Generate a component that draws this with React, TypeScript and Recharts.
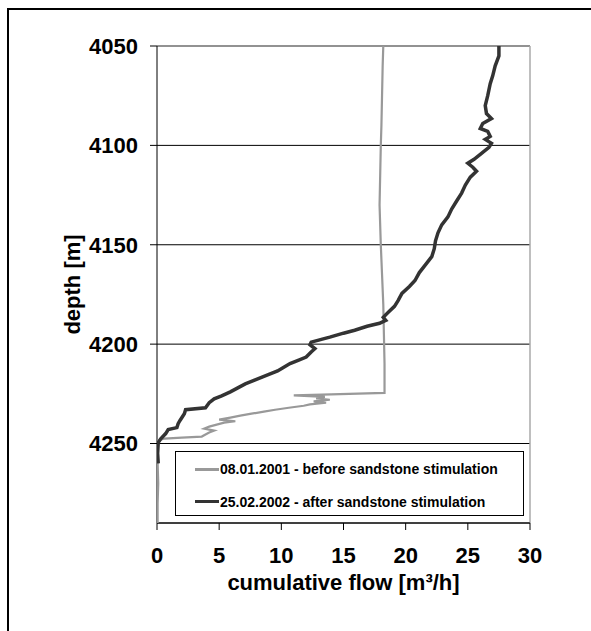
import {
  CartesianGrid,
  Label,
  Legend,
  ReferenceLine,
  Scatter,
  ScatterChart,
  XAxis,
  YAxis,
} from "recharts";

const FONT = '"Liberation Sans", Arial, Helvetica, sans-serif';

const xTicks = [0, 5, 10, 15, 20, 25, 30];
const yTicks = [4050, 4100, 4150, 4200, 4250];

const beforeLabel = "08.01.2001 - before sandstone stimulation";
const afterLabel = "25.02.2002 - after sandstone stimulation";

// 08.01.2001 profile (depth m, cumulative flow m³/h)
const beforeDepth = [
  4050, 4060, 4075, 4090, 4100, 4115, 4130, 4150, 4165, 4180, 4195, 4210, 4224.5,
  4225.3, 4225.8, 4226.5, 4227.3, 4228, 4228.8, 4229.5, 4230.3, 4231, 4232, 4233,
  4234, 4235, 4236, 4237, 4238, 4238.8, 4239.5, 4240.5, 4241.5, 4242.5, 4243.5,
  4244.5, 4245.5, 4246.5, 4247, 4247.5, 4248.5, 4252, 4260, 4270, 4280, 4290,
];
const beforeFlow = [
  18.2, 18.15, 18.1, 18.05, 18.0, 17.95, 17.9, 18.0, 18.1, 18.2, 18.25, 18.3, 18.3,
  14.0, 11.0, 13.5, 12.8, 13.9, 12.6, 13.6, 12.3, 11.8, 10.6, 9.5,
  8.6, 7.6, 6.7, 5.9, 5.0, 6.3, 5.4, 4.8, 4.2, 3.8, 4.6,
  4.2, 3.9, 3.6, 2.0, 0.6, 0.1, 0.05, 0.05, 0.1, 0.05, 0.05,
];

// 25.02.2002 profile
const afterDepth = [
  4050, 4055, 4060, 4065, 4069, 4075, 4080, 4084, 4086.5, 4089, 4091.5, 4093, 4095.5,
  4097, 4099, 4101, 4104, 4107, 4109, 4111, 4113, 4116, 4120, 4124, 4128, 4132, 4136,
  4140, 4144, 4148, 4152, 4156, 4160, 4164, 4168, 4171, 4174.5, 4178, 4181, 4184,
  4186.5, 4188, 4189.5, 4191, 4193, 4194.5, 4196.5, 4198, 4199, 4200.3, 4202.3, 4204,
  4206.5, 4208, 4209.8, 4212, 4213.5, 4215.7, 4218, 4220, 4222, 4224, 4226, 4227.5,
  4229.5, 4232, 4233, 4235, 4238.4, 4240, 4242, 4243, 4245, 4247.6, 4249.5, 4255, 4260,
];
const afterFlow = [
  27.5, 27.5, 27.2, 27.0, 26.8, 26.6, 26.4, 26.5, 26.9, 26.2, 26.0, 26.6, 26.8,
  26.4, 26.9, 26.7, 26.1, 25.5, 25.0, 25.4, 25.7, 25.2, 24.8, 24.5, 24.1, 23.7, 23.4,
  22.9, 22.6, 22.4, 22.3, 22.1, 21.6, 21.1, 20.75, 20.3, 19.7, 19.4, 19.1, 18.6,
  18.2, 18.4, 17.9, 16.9, 15.9, 15.0, 13.9, 13.0, 12.4, 12.3, 12.7, 12.4,
  12.0, 11.4, 10.7, 10.1, 9.7, 8.8, 7.9, 7.1, 6.5, 5.9, 5.2, 4.6,
  4.2, 3.9, 2.3, 2.2, 1.85, 1.7, 1.6, 0.9, 0.7, 0.3, 0.1, 0.05, 0.1,
];

const toPoints = (depth: number[], flow: number[]) =>
  depth.map((d, i) => ({ d, q: flow[i] }));

const before = toPoints(beforeDepth, beforeFlow);
const after = toPoints(afterDepth, afterFlow);

const tickStyle = { fill: "#000", fontSize: 22, fontWeight: 700, fontFamily: FONT };

function FlowLegend({ payload }: any) {
  return (
    <div
      style={{
        boxSizing: "border-box",
        width: 349,
        height: 65,
        border: "1px solid #000",
        background: "#fff",
        position: "relative",
        fontFamily: FONT,
        fontSize: 14,
        fontWeight: 700,
        color: "#000",
      }}
    >
      {(payload || []).map((entry: any, i: number) => (
        <div
          key={entry.value}
          style={{
            position: "absolute",
            left: 19,
            top: 8 + i * 32.5,
            height: 18,
            display: "flex",
            alignItems: "center",
            whiteSpace: "nowrap",
          }}
        >
          <span
            style={{
              display: "inline-block",
              width: 24,
              height: 3,
              background: entry.color,
              marginRight: 1,
            }}
          />
          {entry.value}
        </div>
      ))}
    </div>
  );
}

export default function App() {
  return (
    <div
      style={{
        position: "absolute",
        left: 0,
        top: 0,
        width: 591,
        height: 631,
        overflow: "hidden",
        background: "#fff",
      }}
    >
      <div
        style={{
          position: "absolute",
          left: 7,
          top: 8,
          width: 1000,
          height: 1000,
          borderTop: "2px solid #000",
          borderLeft: "2px solid #000",
        }}
      />
      <div style={{ position: "absolute", left: 0, top: 0 }}>
        <ScatterChart
          width={591}
          height={631}
          margin={{ top: 46, right: 61, bottom: 0, left: 0 }}
        >
          <CartesianGrid vertical={false} stroke="#000" />
          <XAxis
            type="number"
            dataKey="q"
            domain={[0, 30]}
            ticks={xTicks}
            interval={0}
            allowDataOverflow
            height={108}
            tickSize={7}
            tickMargin={17}
            tick={tickStyle}
            axisLine={{ stroke: "#000" }}
            tickLine={{ stroke: "#000" }}
          >
            <Label
              content={({ viewBox }: any) => {
                const cx = viewBox.x + viewBox.width / 2;
                return (
                  <text
                    x={cx}
                    y={viewBox.y + 67}
                    textAnchor="middle"
                    fill="#000"
                    fontSize={22}
                    fontWeight={700}
                    fontFamily={FONT}
                  >
                    cumulative flow [m³/h]
                  </text>
                );
              }}
            />
          </XAxis>
          <YAxis
            type="number"
            dataKey="d"
            domain={[4050, 4290]}
            reversed
            ticks={yTicks}
            interval={0}
            allowDataOverflow
            width={157}
            tickSize={7}
            tickMargin={12}
            tick={tickStyle}
            axisLine={{ stroke: "#000" }}
            tickLine={{ stroke: "#000" }}
          >
            <Label
              content={({ viewBox }: any) => {
                const cx = viewBox.x + 72;
                const cy = viewBox.y + viewBox.height / 2;
                return (
                  <text
                    x={cx}
                    y={cy}
                    transform={`rotate(-90 ${cx} ${cy})`}
                    textAnchor="middle"
                    dominantBaseline="central"
                    fill="#000"
                    fontSize={22}
                    fontWeight={700}
                    fontFamily={FONT}
                  >
                    depth [m]
                  </text>
                );
              }}
            />
          </YAxis>
          <ReferenceLine y={4050} stroke="#999" strokeWidth={1.5} />
          <ReferenceLine x={30} stroke="#aaa" strokeWidth={1.5} />
          <Scatter
            name={beforeLabel}
            data={before}
            fill="#999"
            line={{ stroke: "#999", strokeWidth: 2.2 }}
            shape={() => <g />}
            legendType="line"
            isAnimationActive={false}
          />
          <Scatter
            name={afterLabel}
            data={after}
            fill="#333"
            line={{ stroke: "#333", strokeWidth: 3.5 }}
            shape={() => <g />}
            legendType="line"
            isAnimationActive={false}
          />
          <Legend
            layout="vertical"
            align="center"
            verticalAlign="middle"
            width={349}
            content={<FlowLegend />}
            wrapperStyle={{ left: 175, top: 451, width: 349, height: 65 }}
          />
        </ScatterChart>
      </div>
    </div>
  );
}
